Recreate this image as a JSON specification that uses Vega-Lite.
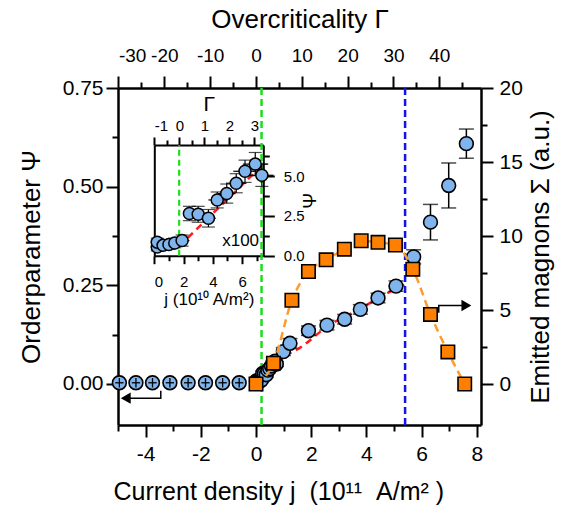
{
"$schema": "https://vega.github.io/schema/vega-lite/v6.json",
"width": 363, "height": 337,
"autosize": {"type": "none"},
"padding": {"left": 118, "top": 88, "right": 93, "bottom": 92},
"background": "white",
"config": {
  "view": {"stroke": null},
  "axis": {"grid": false, "domainColor": "black", "domainWidth": 2.5, "tickColor": "black", "tickWidth": 2, "tickSize": 12,
    "labelFont": "Liberation Sans", "labelFontSize": 21, "labelColor": "black", "labelPadding": 4,
    "titleFont": "Liberation Sans", "titleFontSize": 25, "titleFontWeight": "normal", "titleColor": "black"}
},
"datasets": {
  "pneg": [
    {"j": -4.95, "psi": 0.003, "lo": -0.009, "hi": 0.015, "jlo": -5.1, "jhi": -4.8},
    {"j": -4.35, "psi": 0.003, "lo": -0.009, "hi": 0.015, "jlo": -4.5, "jhi": -4.2},
    {"j": -3.75, "psi": 0.003, "lo": -0.009, "hi": 0.015, "jlo": -3.9, "jhi": -3.6},
    {"j": -3.12, "psi": 0.003, "lo": -0.009, "hi": 0.015, "jlo": -3.27, "jhi": -2.97},
    {"j": -2.46, "psi": 0.003, "lo": -0.009, "hi": 0.015, "jlo": -2.61, "jhi": -2.31},
    {"j": -1.83, "psi": 0.003, "lo": -0.009, "hi": 0.015, "jlo": -1.98, "jhi": -1.68},
    {"j": -1.21, "psi": 0.003, "lo": -0.009, "hi": 0.015, "jlo": -1.36, "jhi": -1.06},
    {"j": -0.61, "psi": 0.003, "lo": -0.009, "hi": 0.015, "jlo": -0.76, "jhi": -0.46}
  ],
  "ppos": [
    {"j": 0.02, "psi": 0.0055, "lo": -0.0005, "hi": 0.0115},
    {"j": 0.02, "psi": 0.0085, "lo": 0.0025, "hi": 0.0145},
    {"j": 0.06, "psi": 0.0065, "lo": 0.0005, "hi": 0.0125},
    {"j": 0.10, "psi": 0.007, "lo": 0.001, "hi": 0.013},
    {"j": 0.14, "psi": 0.008, "lo": 0.002, "hi": 0.014},
    {"j": 0.19, "psi": 0.0095, "lo": 0.0035, "hi": 0.0155},
    {"j": 0.24, "psi": 0.0265, "lo": 0.0205, "hi": 0.0325},
    {"j": 0.30, "psi": 0.026, "lo": 0.02, "hi": 0.032},
    {"j": 0.37, "psi": 0.0235, "lo": 0.0175, "hi": 0.0295},
    {"j": 0.43, "psi": 0.035, "lo": 0.029, "hi": 0.041},
    {"j": 0.495, "psi": 0.039, "lo": 0.033, "hi": 0.045},
    {"j": 0.56, "psi": 0.0455, "lo": 0.0395, "hi": 0.0515},
    {"j": 0.62, "psi": 0.053, "lo": 0.047, "hi": 0.059},
    {"j": 0.69, "psi": 0.0575, "lo": 0.0515, "hi": 0.0635},
    {"j": 0.735, "psi": 0.0505, "lo": 0.0445, "hi": 0.0565},
    {"j": 0.99, "psi": 0.082, "lo": 0.072, "hi": 0.092},
    {"j": 1.23, "psi": 0.103, "lo": 0.091, "hi": 0.115},
    {"j": 1.90, "psi": 0.135, "lo": 0.123, "hi": 0.147},
    {"j": 2.57, "psi": 0.149, "lo": 0.137, "hi": 0.161},
    {"j": 3.21, "psi": 0.164, "lo": 0.152, "hi": 0.176},
    {"j": 3.78, "psi": 0.189, "lo": 0.177, "hi": 0.201},
    {"j": 4.42, "psi": 0.218, "lo": 0.206, "hi": 0.23},
    {"j": 5.07, "psi": 0.248, "lo": 0.235, "hi": 0.261},
    {"j": 5.71, "psi": 0.322, "lo": 0.304, "hi": 0.34},
    {"j": 6.32, "psi": 0.41, "lo": 0.365, "hi": 0.455},
    {"j": 6.98, "psi": 0.503, "lo": 0.446, "hi": 0.56},
    {"j": 7.62, "psi": 0.609, "lo": 0.572, "hi": 0.646}
  ],
  "fit": [
    {"j": 0.17, "psi": 0.006},
    {"j": 0.51, "psi": 0.04},
    {"j": 1.0, "psi": 0.068},
    {"j": 1.6, "psi": 0.092},
    {"j": 2.57, "psi": 0.145},
    {"j": 3.78, "psi": 0.191},
    {"j": 4.62, "psi": 0.225},
    {"j": 5.41, "psi": 0.253}
  ],
  "sigma": [
    {"j": 0.0, "s": 0.0},
    {"j": 0.63, "s": 1.41},
    {"j": 1.30, "s": 5.66},
    {"j": 1.90, "s": 7.60},
    {"j": 2.54, "s": 8.39},
    {"j": 3.20, "s": 9.11},
    {"j": 3.81, "s": 9.68},
    {"j": 4.42, "s": 9.57},
    {"j": 5.05, "s": 9.39},
    {"j": 5.68, "s": 7.76},
    {"j": 6.32, "s": 4.70},
    {"j": 6.95, "s": 2.17},
    {"j": 7.56, "s": 0.0}
  ],
  "larrow": [
    {"j": -3.45, "psi": -0.017, "o": 1},
    {"j": -3.45, "psi": -0.036, "o": 2},
    {"j": -4.6, "psi": -0.036, "o": 3}
  ],
  "larrowhead": [{"j": -4.72, "psi": -0.036}],
  "rarrow": [
    {"j": 6.62, "s": 4.81, "o": 1},
    {"j": 6.62, "s": 5.30, "o": 2},
    {"j": 7.5, "s": 5.30, "o": 3}
  ],
  "rarrowhead": [{"j": 7.62, "s": 5.30}],
  "ins": [
    {"j10": 0.2, "p": 0.55, "jlo": -0.1, "jhi": 0.5, "plo": 0.3, "phi": 0.8},
    {"j10": 0.2, "p": 0.85, "jlo": -0.1, "jhi": 0.5, "plo": 0.6, "phi": 1.1},
    {"j10": 0.6, "p": 0.65, "jlo": 0.2, "jhi": 1.0, "plo": 0.4, "phi": 0.9},
    {"j10": 1.0, "p": 0.7, "jlo": 0.6, "jhi": 1.4, "plo": 0.4, "phi": 1.0},
    {"j10": 1.4, "p": 0.8, "jlo": 1.0, "jhi": 1.8, "plo": 0.5, "phi": 1.1},
    {"j10": 1.9, "p": 0.95, "jlo": 1.4, "jhi": 2.4, "plo": 0.6, "phi": 1.3},
    {"j10": 2.4, "p": 2.65, "jlo": 2.0, "jhi": 2.8, "plo": 2.2, "phi": 3.1},
    {"j10": 3.0, "p": 2.6, "jlo": 2.5, "jhi": 3.5, "plo": 2.1, "phi": 3.1},
    {"j10": 3.7, "p": 2.35, "jlo": 3.2, "jhi": 4.2, "plo": 1.8, "phi": 2.9},
    {"j10": 4.3, "p": 3.5, "jlo": 3.7, "jhi": 4.9, "plo": 3.0, "phi": 4.0},
    {"j10": 4.95, "p": 3.9, "jlo": 4.35, "jhi": 5.55, "plo": 3.3, "phi": 4.5},
    {"j10": 5.6, "p": 4.55, "jlo": 4.9, "jhi": 6.3, "plo": 3.95, "phi": 5.15},
    {"j10": 6.2, "p": 5.3, "jlo": 5.4, "jhi": 7.0, "plo": 4.6, "phi": 6.0},
    {"j10": 6.9, "p": 5.75, "jlo": 6.05, "jhi": 7.75, "plo": 5.02, "phi": 6.48},
    {"j10": 7.35, "p": 5.05, "jlo": 6.55, "jhi": 8.15, "plo": 4.35, "phi": 5.75}
  ],
  "insfit": [{"j10": 1.7, "p": 0.6}, {"j10": 7.43, "p": 5.72}]
},
"resolve": {"scale": {"x": "independent", "y": "independent"}},
"layer": [
  {
    "resolve": {"axis": {"x": "independent", "y": "independent"}},
    "layer": [
      {"data": {"values": [{"j": 0.2}]},
       "mark": {"type": "rule", "color": "#1edc1e", "strokeWidth": 2.5, "strokeDash": [7, 4]},
       "encoding": {"x": {"field": "j", "type": "quantitative", "scale": {"domain": [-5, 8.15], "nice": false, "zero": false},
         "axis": {"orient": "bottom", "values": [-4, -2, 0, 2, 4, 6, 8], "labelExpr": "'' + datum.value", "labelPadding": 6,
           "title": "Current density j\u00a0\u00a0(10¹¹\u00a0\u00a0A/m²\u00a0)", "titleAnchor": "start", "titleAlign": "left", "titleX": -5, "titlePadding": 15}}}},
      {"data": {"values": [{"j": 5.4}]},
       "mark": {"type": "rule", "color": "#1414e6", "strokeWidth": 2.5, "strokeDash": [7, 4]},
       "encoding": {"x": {"field": "j", "type": "quantitative", "scale": {"domain": [-5, 8.15], "nice": false, "zero": false},
         "axis": {"orient": "bottom", "values": [-5, -3, -1, 1, 3, 5, 7], "labels": false, "tickSize": 6, "domain": false, "title": null}}}},
      {"data": {"name": "fit"},
       "mark": {"type": "line", "color": "#ff1a1a", "strokeWidth": 2.5, "strokeDash": [7, 5], "interpolate": "monotone"},
       "encoding": {"x": {"field": "j", "type": "quantitative", "axis": null},
         "y": {"field": "psi", "type": "quantitative", "scale": {"domain": [-0.104, 0.75], "nice": false, "zero": false},
           "axis": {"orient": "left", "values": [0, 0.25, 0.5, 0.75], "format": ".2f", "labelPadding": 3, "title": "Orderparameter Ψ", "titleFontSize": 26, "titlePadding": 18}}}},
      {"data": {"name": "ppos"},
       "mark": {"type": "rule", "color": "black", "strokeWidth": 1.5},
       "encoding": {"x": {"field": "j", "type": "quantitative", "axis": null},
         "y": {"field": "lo", "type": "quantitative",
           "axis": {"orient": "left", "values": [-0.125, 0.125, 0.375, 0.625], "labels": false, "tickSize": 6, "domain": false, "title": null}},
         "y2": {"field": "hi"}}},
      {"data": {"name": "ppos"},
       "mark": {"type": "tick", "orient": "horizontal", "color": "black", "size": 15, "thickness": 1.5},
       "encoding": {"x": {"field": "j", "type": "quantitative", "axis": null}, "y": {"field": "lo", "type": "quantitative", "axis": null}}},
      {"data": {"name": "ppos"},
       "mark": {"type": "tick", "orient": "horizontal", "color": "black", "size": 15, "thickness": 1.5},
       "encoding": {"x": {"field": "j", "type": "quantitative", "axis": null}, "y": {"field": "hi", "type": "quantitative", "axis": null}}},
      {"data": {"name": "ppos"},
       "mark": {"type": "point", "shape": "circle", "filled": true, "fill": "#80b4ec", "stroke": "black", "strokeWidth": 1.6, "size": 190, "opacity": 1},
       "encoding": {"x": {"field": "j", "type": "quantitative", "axis": null}, "y": {"field": "psi", "type": "quantitative", "axis": null}}},
      {"data": {"name": "pneg"},
       "mark": {"type": "point", "shape": "circle", "filled": true, "fill": "#80b4ec", "stroke": "black", "strokeWidth": 1.6, "size": 190, "opacity": 1},
       "encoding": {"x": {"field": "j", "type": "quantitative", "axis": null}, "y": {"field": "psi", "type": "quantitative", "axis": null}}},
      {"data": {"name": "pneg"},
       "mark": {"type": "rule", "color": "black", "strokeWidth": 1.3},
       "encoding": {"x": {"field": "j", "type": "quantitative", "axis": null}, "y": {"field": "lo", "type": "quantitative", "axis": null}, "y2": {"field": "hi"}}},
      {"data": {"name": "pneg"},
       "mark": {"type": "rule", "color": "black", "strokeWidth": 1.3},
       "encoding": {"x": {"field": "jlo", "type": "quantitative", "axis": null}, "x2": {"field": "jhi"}, "y": {"field": "psi", "type": "quantitative", "axis": null}}},
      {"data": {"name": "larrow"},
       "mark": {"type": "line", "color": "black", "strokeWidth": 1.5},
       "encoding": {"x": {"field": "j", "type": "quantitative", "axis": null}, "y": {"field": "psi", "type": "quantitative", "axis": null}, "order": {"field": "o"}}},
      {"data": {"name": "larrowhead"},
       "mark": {"type": "point", "shape": "triangle-left", "filled": true, "color": "black", "size": 130, "opacity": 1},
       "encoding": {"x": {"field": "j", "type": "quantitative", "axis": null}, "y": {"field": "psi", "type": "quantitative", "axis": null}}}
    ]
  },
  {
    "resolve": {"axis": {"y": "independent"}},
    "layer": [
      {"data": {"name": "sigma"},
       "mark": {"type": "line", "color": "#ff9a2e", "strokeWidth": 2.5, "strokeDash": [8, 5], "interpolate": "monotone"},
       "encoding": {"x": {"field": "j", "type": "quantitative", "scale": {"domain": [-5, 8.15], "nice": false, "zero": false}, "axis": null},
         "y": {"field": "s", "type": "quantitative", "scale": {"domain": [-2.77, 20], "nice": false, "zero": false},
           "axis": {"orient": "right", "values": [0, 5, 10, 15, 20], "labelPadding": 6, "title": "Emitted magnons Σ (a.u.)", "titleFontSize": 26, "titleAngle": -90, "titleBaseline": "top", "titlePadding": 5}}}},
      {"data": {"name": "sigma"},
       "mark": {"type": "point", "shape": "square", "filled": true, "fill": "#ff8000", "stroke": "black", "strokeWidth": 1.6, "size": 180, "opacity": 1},
       "encoding": {"x": {"field": "j", "type": "quantitative", "axis": null},
         "y": {"field": "s", "type": "quantitative",
           "axis": {"orient": "right", "values": [2.5, 7.5, 12.5, 17.5], "labels": false, "tickSize": 6, "domain": false, "title": null}}}},
      {"data": {"name": "rarrow"},
       "mark": {"type": "line", "color": "black", "strokeWidth": 1.5},
       "encoding": {"x": {"field": "j", "type": "quantitative", "axis": null}, "y": {"field": "s", "type": "quantitative", "axis": null}, "order": {"field": "o"}}},
      {"data": {"name": "rarrowhead"},
       "mark": {"type": "point", "shape": "triangle-right", "filled": true, "color": "black", "size": 130, "opacity": 1},
       "encoding": {"x": {"field": "j", "type": "quantitative", "axis": null}, "y": {"field": "s", "type": "quantitative", "axis": null}}}
    ]
  },
  {
    "data": {"values": [{"G": -30}, {"G": 49}]},
    "resolve": {"axis": {"x": "independent"}},
    "layer": [
      {"mark": {"type": "point", "opacity": 0},
       "encoding": {"x": {"field": "G", "type": "quantitative", "scale": {"domain": [-30.1, 49.1], "nice": false, "zero": false},
         "axis": {"orient": "top", "values": [-30, -20, -10, 0, 10, 20, 30, 40], "labelExpr": "'' + datum.value", "labelFontSize": 19, "labelPadding": 11,
           "title": "Overcriticality Γ", "titleFontSize": 26, "titlePadding": 14}}}},
      {"mark": {"type": "point", "opacity": 0},
       "encoding": {"x": {"field": "G", "type": "quantitative",
         "axis": {"orient": "top", "values": [-25, -15, -5, 5, 15, 25, 35, 45], "labels": false, "tickSize": 6, "domain": false, "title": null}}}}
    ]
  },
  {
    "resolve": {"axis": {"x": "independent", "y": "independent"}},
    "layer": [
      {"data": {"values": [{"j10": 1.7, "p0": 0, "p1": 6.95}]},
       "mark": {"type": "rule", "color": "#1edc1e", "strokeWidth": 2.2, "strokeDash": [6, 4]},
       "encoding": {"x": {"field": "j10", "type": "quantitative", "scale": {"domain": [0, 7.45], "range": [36.3, 145.3], "nice": false, "zero": false},
           "axis": {"orient": "bottom", "offset": -169.3, "values": [0, 2, 4, 6], "domainWidth": 2, "tickSize": 8, "labelFontSize": 15, "labelPadding": 11,
             "title": "j (10¹⁰ A/m²)", "titleFontSize": 17, "titlePadding": 2}},
         "y": {"field": "p0", "type": "quantitative", "scale": {"domain": [0, 6.95], "range": [167.7, 57], "nice": false, "zero": false},
           "axis": {"orient": "right", "offset": -217.7, "values": [0, 2.5, 5], "format": ".1f", "domainWidth": 2, "tickSize": 11, "labelFontSize": 15, "labelPadding": 9,
             "title": "Ψ", "titleFontSize": 19, "titleAngle": -90, "titleBaseline": "top", "titlePadding": -4}},
         "y2": {"field": "p1"}}},
      {"data": {"name": "insfit"},
       "mark": {"type": "line", "color": "#ff1a1a", "strokeWidth": 2.5, "strokeDash": [7, 5]},
       "encoding": {"x": {"field": "j10", "type": "quantitative",
           "axis": {"orient": "bottom", "offset": -169.3, "values": [1, 3, 5, 7], "labels": false, "tickSize": 5, "domain": false, "title": null}},
         "y": {"field": "p", "type": "quantitative",
           "axis": {"orient": "right", "offset": -217.7, "values": [1.25, 3.75, 6.25], "labels": false, "tickSize": 6, "domain": false, "title": null}}}},
      {"data": {"name": "ins"},
       "mark": {"type": "rule", "color": "black", "strokeWidth": 1.2},
       "encoding": {"x": {"field": "jlo", "type": "quantitative", "axis": null}, "x2": {"field": "jhi"}, "y": {"field": "p", "type": "quantitative", "axis": null}}},
      {"data": {"name": "ins"},
       "mark": {"type": "rule", "color": "black", "strokeWidth": 1.2},
       "encoding": {"x": {"field": "j10", "type": "quantitative", "axis": null}, "y": {"field": "plo", "type": "quantitative", "axis": null}, "y2": {"field": "phi"}}},
      {"data": {"name": "ins"},
       "mark": {"type": "tick", "orient": "horizontal", "color": "black", "size": 13, "thickness": 1.2},
       "encoding": {"x": {"field": "j10", "type": "quantitative", "axis": null}, "y": {"field": "plo", "type": "quantitative", "axis": null}}},
      {"data": {"name": "ins"},
       "mark": {"type": "tick", "orient": "horizontal", "color": "black", "size": 13, "thickness": 1.2},
       "encoding": {"x": {"field": "j10", "type": "quantitative", "axis": null}, "y": {"field": "phi", "type": "quantitative", "axis": null}}},
      {"data": {"name": "ins"},
       "mark": {"type": "point", "shape": "circle", "filled": true, "fill": "#80b4ec", "stroke": "black", "strokeWidth": 1.5, "size": 144, "opacity": 1},
       "encoding": {"x": {"field": "j10", "type": "quantitative", "axis": null}, "y": {"field": "p", "type": "quantitative", "axis": null}}},
      {"data": {"values": [{"j10": 5.9, "p": 0.95, "t": "x100"}]},
       "mark": {"type": "text", "font": "Liberation Sans", "fontSize": 17, "color": "black", "align": "center", "baseline": "middle"},
       "encoding": {"x": {"field": "j10", "type": "quantitative", "axis": null}, "y": {"field": "p", "type": "quantitative", "axis": null}, "text": {"field": "t"}}}
    ]
  },
  {
    "data": {"values": [{"G": -1, "p": 0}]},
    "resolve": {"axis": {"x": "independent"}},
    "layer": [
      {"mark": {"type": "point", "opacity": 0},
       "encoding": {"x": {"field": "G", "type": "quantitative", "scale": {"domain": [-1, 3.36], "range": [36.3, 145.3], "nice": false, "zero": false},
           "axis": {"orient": "top", "offset": -57, "values": [-1, 0, 1, 2, 3], "labelExpr": "'' + datum.value", "domainWidth": 2, "tickSize": 8, "labelFontSize": 15, "labelPadding": 4,
             "title": "Γ", "titleFontSize": 21, "titlePadding": 4}},
         "y": {"field": "p", "type": "quantitative", "scale": {"domain": [0, 6.95], "range": [167.7, 57], "nice": false, "zero": false},
           "axis": {"orient": "left", "offset": -36.3, "ticks": false, "labels": false, "domainWidth": 2, "title": null}}}},
      {"mark": {"type": "point", "opacity": 0},
       "encoding": {"x": {"field": "G", "type": "quantitative",
           "axis": {"orient": "top", "offset": -57, "values": [-0.5, 0.5, 1.5, 2.5], "labels": false, "tickSize": 5, "domain": false, "title": null}}}}
    ]
  }
]
}
